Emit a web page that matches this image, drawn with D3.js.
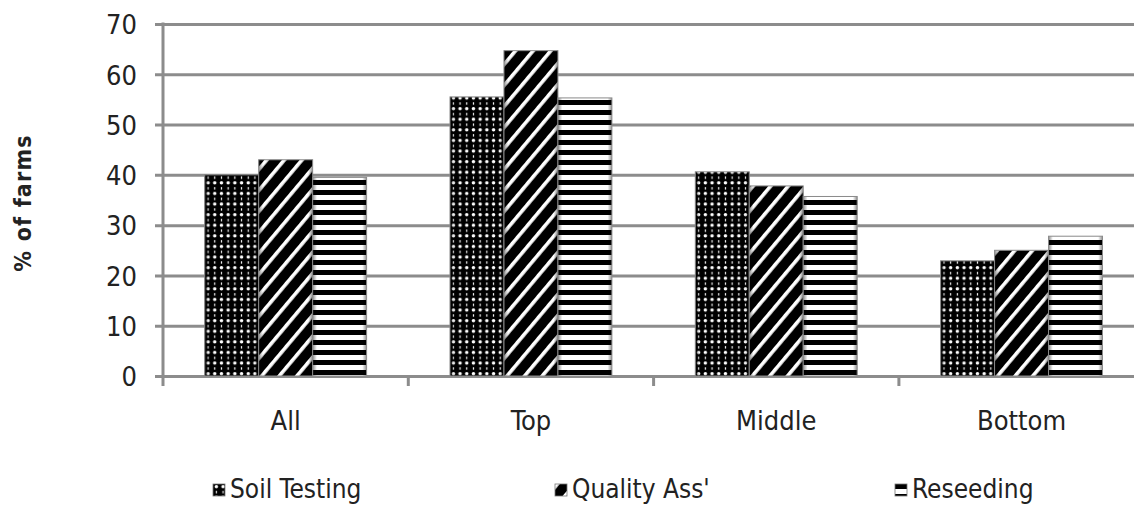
<!DOCTYPE html>
<html>
<head>
<meta charset="utf-8">
<script src="https://cdn.jsdelivr.net/npm/d3@7"></script>
<style>
  html, body { margin: 0; padding: 0; background: #fff; }
  svg { display: block; }
  text { font-family: "Liberation Sans Narrow", "DejaVu Sans Condensed", "Arial Narrow", sans-serif; fill: #222; }
</style>
</head>
<body>
<svg id="chart" width="1134" height="505"></svg>
<script>
// Share of farms adopting each practice, by performance group
const categories = ["All", "Top", "Middle", "Bottom"];
const seriesNames = ["Soil Testing", "Quality Ass'", "Reseeding"];
const soilTesting = [40, 55.5, 40.6, 22.9];
const qualityAssurance = [43, 64.7, 37.8, 25];
const reseeding = [39.5, 55.3, 35.7, 27.8];
const yTicks = [0, 10, 20, 30, 40, 50, 60, 70];
const yTitle = "% of farms";

const seriesValues = [soilTesting, qualityAssurance, reseeding];
const patternIds = ["pat-dots", "pat-diag", "pat-horiz"];

const W = 1134, H = 505;
const plotLeft = 163, plotTop = 24, plotBottom = 376;
const step = 245.3;

const svg = d3.select("#chart");
const defs = svg.append("defs");

// Dotted fill: white dots alternating with small white dashes on black
const dots = defs.append("pattern").attr("id", "pat-dots")
  .attr("patternUnits", "userSpaceOnUse").attr("width", 6.7).attr("height", 10.6);
dots.append("rect").attr("width", 6.7).attr("height", 10.6).attr("fill", "#000");
dots.append("circle").attr("cx", 3.35).attr("cy", 2.65).attr("r", 1.75).attr("fill", "#fff");
dots.append("rect").attr("x", 2.75).attr("y", 6.9).attr("width", 1.2).attr("height", 2.4).attr("fill", "#fff");

// Wide diagonal stripes
const diag = defs.append("pattern").attr("id", "pat-diag")
  .attr("patternUnits", "userSpaceOnUse").attr("width", 13.5).attr("height", 13.5)
  .attr("patternTransform", "rotate(40)");
diag.append("rect").attr("width", 13.5).attr("height", 13.5).attr("fill", "#000");
diag.append("rect").attr("x", 0).attr("width", 3.6).attr("height", 13.5).attr("fill", "#fff");

// Horizontal stripes
const horiz = defs.append("pattern").attr("id", "pat-horiz")
  .attr("patternUnits", "userSpaceOnUse").attr("width", 10).attr("height", 10);
horiz.append("rect").attr("width", 10).attr("height", 10).attr("fill", "#fff");
horiz.append("rect").attr("y", 0).attr("width", 10).attr("height", 5).attr("fill", "#000");

// Bevel shading across each bar
const shade = defs.append("linearGradient").attr("id", "bevel")
  .attr("x1", "0").attr("x2", "1").attr("y1", "0").attr("y2", "0");
shade.append("stop").attr("offset", "0").attr("stop-color", "#000").attr("stop-opacity", 0.45);
shade.append("stop").attr("offset", "0.08").attr("stop-color", "#000").attr("stop-opacity", 0);
shade.append("stop").attr("offset", "0.92").attr("stop-color", "#000").attr("stop-opacity", 0);
shade.append("stop").attr("offset", "1").attr("stop-color", "#000").attr("stop-opacity", 0.45);

// Scales
const x = d3.scaleBand().domain(categories)
  .range([plotLeft, plotLeft + step * categories.length])
  .paddingInner(0.34).paddingOuter(0.17);
const xs = d3.scaleBand().domain(d3.range(seriesNames.length))
  .range([0, x.bandwidth()]).padding(0);
const y = d3.scaleLinear().domain([0, 70]).range([plotBottom, plotTop]);

// Gridlines and y ticks
const yAxis = d3.axisLeft(y).tickValues(yTicks).tickSize(-(W - plotLeft)).tickPadding(26).tickFormat(d3.format("d"));
const gy = svg.append("g").attr("transform", `translate(${plotLeft},0)`).call(yAxis);
gy.select(".domain").remove();
gy.selectAll(".tick line").attr("x1", -8).attr("stroke", "#8c8c8c").attr("stroke-width", 3);
gy.selectAll(".tick text").style("font-size", "27px").attr("fill", "#222").attr("dy", "0.36em");

// Bars
const groups = svg.append("g").selectAll("g").data(categories).join("g")
  .attr("transform", d => `translate(${x(d)},0)`);
groups.selectAll("g.bar").data((c, i) => seriesValues.map((vals, s) => ({ s, v: vals[i] })))
  .join("g").attr("class", "bar")
  .each(function(d) {
    const g = d3.select(this);
    const bx = xs(d.s), bw = xs.bandwidth(), by = y(d.v), bh = y(0) - y(d.v);
    g.append("rect").attr("x", bx).attr("y", by).attr("width", bw).attr("height", bh)
      .attr("fill", `url(#${patternIds[d.s]})`);
    g.append("rect").attr("x", bx).attr("y", by).attr("width", bw).attr("height", bh)
      .attr("fill", "url(#bevel)").attr("stroke", "#8a8a8a").attr("stroke-width", 1);
  });

// Y axis line
svg.append("line").attr("x1", plotLeft).attr("x2", plotLeft).attr("y1", plotTop - 1.5).attr("y2", plotBottom + 10)
  .attr("stroke", "#8c8c8c").attr("stroke-width", 3);

// X axis ticks at category boundaries
const bounds = d3.range(1, categories.length + 1).map(i => plotLeft + i * x.step());
svg.append("g").selectAll("line").data(bounds).join("line")
  .attr("x1", d => d).attr("x2", d => d).attr("y1", plotBottom).attr("y2", plotBottom + 10)
  .attr("stroke", "#8c8c8c").attr("stroke-width", 3);

// Category labels
svg.append("g").selectAll("text").data(categories).join("text")
  .attr("x", d => x(d) + x.bandwidth() / 2).attr("y", 430)
  .attr("text-anchor", "middle").style("font-size", "27px").text(d => d);

// Y title
svg.append("text").attr("transform", "translate(31,203) rotate(-90)")
  .attr("text-anchor", "middle").style("font-size", "23px").style("font-weight", "bold")
  .style("letter-spacing", "1.2px").text(yTitle);

// Legend
const legendX = [213, 555, 895];
const legend = svg.append("g").selectAll("g").data(seriesNames).join("g")
  .attr("transform", (d, i) => `translate(${legendX[i]},484)`);
legend.append("rect").attr("width", 12).attr("height", 12)
  .attr("fill", (d, i) => `url(#${patternIds[i]})`).attr("stroke", "#777").attr("stroke-width", 0.8);
legend.append("text").attr("x", 17).attr("y", 14).style("font-size", "26px").text(d => d);
</script>
</body>
</html>
